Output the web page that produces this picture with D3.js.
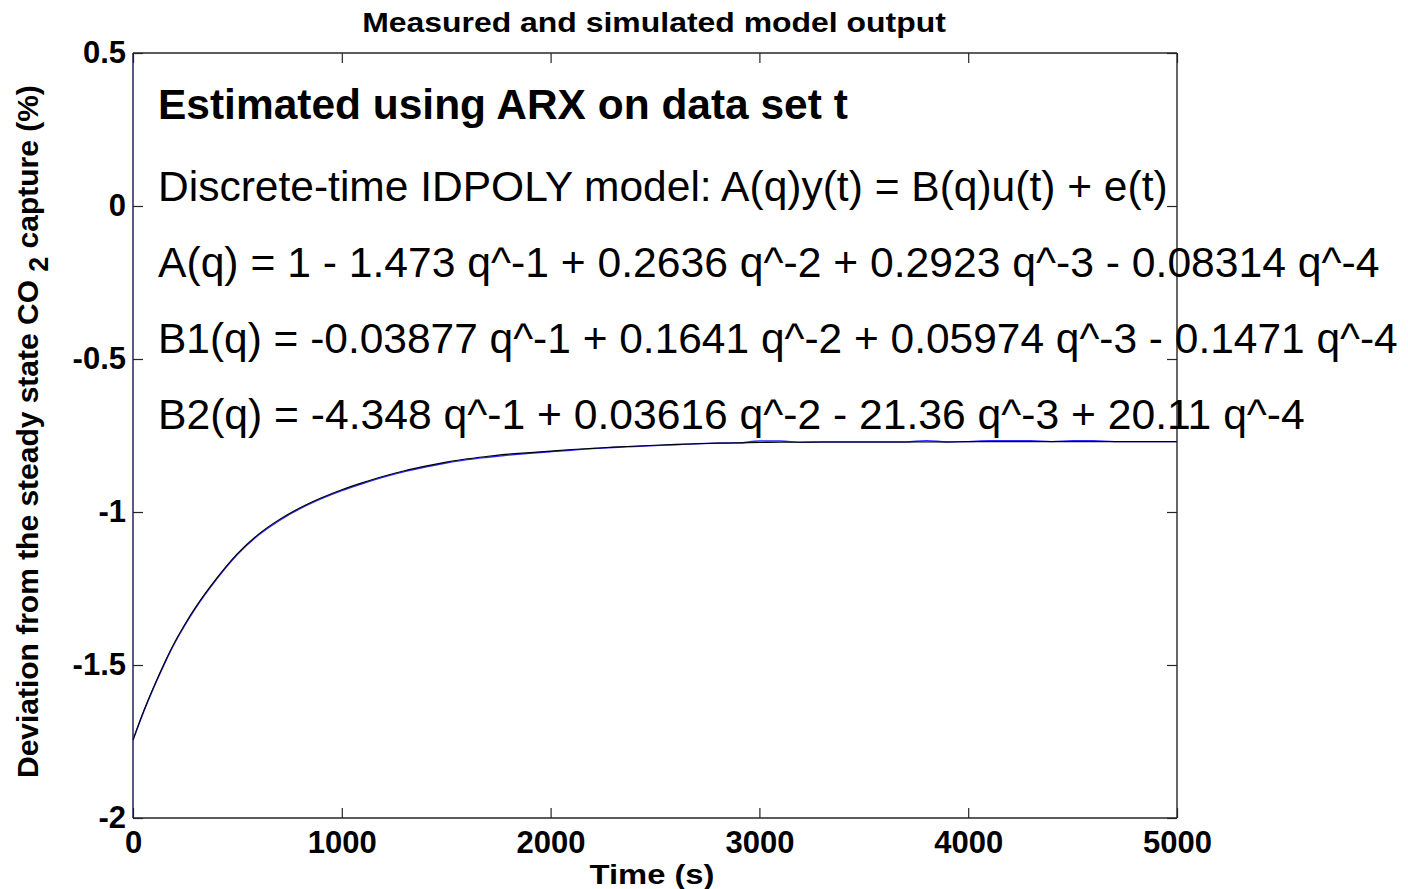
<!DOCTYPE html>
<html>
<head>
<meta charset="utf-8">
<script src="https://cdn.jsdelivr.net/npm/d3@7"></script>
<style>
  html, body { margin: 0; padding: 0; background: #fff; }
  svg { display: block; font-family: Arial, "Liberation Sans", sans-serif; }
</style>
</head>
<body>
<svg id="chart" width="1408" height="889"></svg>
<script>
// Sample times (s) and deviation of CO2 capture (%)
const timeS = [0, 50, 100, 150, 200, 250, 300, 400, 500, 600, 700, 800, 900, 1000,
  1100, 1200, 1300, 1400, 1500, 1600, 1700, 1800, 1900, 2000, 2100, 2200, 2300, 2400,
  2500, 2600, 2700, 2800, 2900, 3000, 3100, 3200, 3300, 3400, 3500, 3600, 3700, 3800,
  3900, 4000, 4100, 4200, 4300, 4400, 4500, 4600, 4700, 4800, 4900, 5000];

const measured = [-1.745, -1.652, -1.570, -1.494, -1.425, -1.365, -1.311, -1.217, -1.136,
  -1.073, -1.025, -0.986, -0.954, -0.927, -0.904, -0.883, -0.865, -0.850, -0.837, -0.826,
  -0.818, -0.811, -0.806, -0.801, -0.796, -0.792, -0.788, -0.785, -0.782, -0.779, -0.777,
  -0.775, -0.774, -0.773, -0.772, -0.772, -0.771, -0.771, -0.771, -0.771, -0.771, -0.771,
  -0.771, -0.770, -0.770, -0.770, -0.770, -0.770, -0.770, -0.770, -0.770, -0.770, -0.770,
  -0.770];

const simulated = [-1.745, -1.655, -1.573, -1.497, -1.428, -1.368, -1.314, -1.220, -1.139,
  -1.076, -1.028, -0.989, -0.957, -0.930, -0.907, -0.886, -0.868, -0.853, -0.840, -0.829,
  -0.821, -0.814, -0.808, -0.803, -0.798, -0.793, -0.789, -0.786, -0.783, -0.780, -0.777,
  -0.775, -0.774, -0.768, -0.768, -0.772, -0.771, -0.771, -0.771, -0.771, -0.771, -0.767,
  -0.771, -0.770, -0.767, -0.767, -0.767, -0.770, -0.767, -0.767, -0.770, -0.770, -0.770,
  -0.770];

const xTicks = [0, 1000, 2000, 3000, 4000, 5000];
const yTicks = [-2, -1.5, -1, -0.5, 0, 0.5];
const yTickLabels = ["-2", "-1.5", "-1", "-0.5", "0", "0.5"];

const chartTitle = "Measured and simulated model output";
const xLabel = "Time (s)";
const yLabelParts = ["Deviation from the steady state CO ", "2", " capture (%)"];

const noteHeading = "Estimated using ARX on data set t";
const noteLines = [
  "Discrete-time IDPOLY model: A(q)y(t) = B(q)u(t) + e(t)",
  "A(q) = 1 - 1.473 q^-1 + 0.2636 q^-2 + 0.2923 q^-3 - 0.08314 q^-4",
  "B1(q) = -0.03877 q^-1 + 0.1641 q^-2 + 0.05974 q^-3 - 0.1471 q^-4",
  "B2(q) = -4.348 q^-1 + 0.03616 q^-2 - 21.36 q^-3 + 20.11 q^-4"
];

// ---- layout ----
const svg = d3.select("#chart");
const box = { left: 133, right: 1177, top: 53, bottom: 818 };

const x = d3.scaleLinear().domain([0, 5000]).range([box.left, box.right]);
const y = d3.scaleLinear().domain([-2, 0.5]).range([box.bottom, box.top]);

// text placed at (px,py) and scaled so that it spans `width` pixels;
// with keepHeight the glyph height stays at the given font size
function fittedText(parent, opts) {
  const g = parent.append("g");
  const t = g.append("text")
    .attr("font-size", opts.size)
    .attr("font-weight", opts.weight || "normal")
    .attr("text-anchor", opts.anchor || "start")
    .attr("fill", "#000");
  if (opts.parts) {
    t.append("tspan").text(opts.parts[0]);
    t.append("tspan").attr("font-size", opts.size * 0.9).attr("dy", opts.size * 0.32).text(opts.parts[1]);
    t.append("tspan").attr("dy", -opts.size * 0.32).text(opts.parts[2]);
  } else {
    t.text(opts.text);
  }
  const len = t.node().getComputedTextLength();
  const sx = opts.width / len;
  const sy = opts.keepHeight ? 1 : sx;
  const rot = opts.rotate ? ` rotate(${opts.rotate})` : "";
  g.attr("transform", `translate(${opts.x},${opts.y})${rot} scale(${sx},${sy})`);
  return g;
}

// ---- data lines ----
const simPts = timeS.map((t, i) => ({ t, v: simulated[i] }));
const measPts = timeS.map((t, i) => ({ t, v: measured[i] }));
const line = d3.line().x(d => x(d.t)).y(d => y(d.v)).curve(d3.curveMonotoneX);

svg.append("path").datum(simPts)
  .attr("d", line).attr("fill", "none")
  .attr("stroke", "#2a2aff").attr("stroke-width", 1.4);
svg.append("path").datum(measPts)
  .attr("d", line).attr("fill", "none")
  .attr("stroke", "#000").attr("stroke-width", 1.1);

// ---- axes (ticks pointing inward on all four sides) ----
const tickLen = 10;
const axColor = "#262626";

const gBottom = svg.append("g").attr("transform", `translate(0,${box.bottom})`)
  .call(d3.axisBottom(x).tickValues(xTicks).tickSize(-tickLen).tickPadding(13)
    .tickFormat(d3.format("d")));
const gTop = svg.append("g").attr("transform", `translate(0,${box.top})`)
  .call(d3.axisTop(x).tickValues(xTicks).tickSize(-tickLen).tickFormat(""));
const gLeft = svg.append("g").attr("transform", `translate(${box.left},0)`)
  .call(d3.axisLeft(y).tickValues(yTicks).tickSize(-tickLen).tickPadding(7)
    .tickFormat((d, i) => yTickLabels[i]));
const gRight = svg.append("g").attr("transform", `translate(${box.right},0)`)
  .call(d3.axisRight(y).tickValues(yTicks).tickSize(-tickLen).tickFormat(""));

[gBottom, gTop, gLeft, gRight].forEach(g => {
  g.select(".domain").remove();
  g.selectAll(".tick line").attr("stroke", axColor).attr("stroke-width", 1.2);
});
[gBottom, gLeft].forEach(g => {
  g.selectAll(".tick text")
    .attr("font-size", 31).attr("font-weight", "bold").attr("fill", "#000")
    .attr("font-family", "Arial, 'Liberation Sans', sans-serif");
});

// frame
svg.append("line").attr("x1", box.left).attr("x2", box.right).attr("y1", box.top).attr("y2", box.top)
  .attr("stroke", axColor).attr("stroke-width", 1.4);
svg.append("line").attr("x1", box.left).attr("x2", box.right).attr("y1", box.bottom).attr("y2", box.bottom)
  .attr("stroke", axColor).attr("stroke-width", 1.4);
svg.append("line").attr("x1", box.right).attr("x2", box.right).attr("y1", box.top).attr("y2", box.bottom)
  .attr("stroke", axColor).attr("stroke-width", 1.4);
svg.append("line").attr("x1", box.left).attr("x2", box.left).attr("y1", box.top).attr("y2", box.bottom)
  .attr("stroke", "#16164a").attr("stroke-width", 1.4);

// ---- titles ----
fittedText(svg, { x: 654, y: 32, text: chartTitle, size: 27, weight: "bold", anchor: "middle", width: 584, keepHeight: true });
fittedText(svg, { x: 652, y: 884, text: xLabel, size: 28, weight: "bold", anchor: "middle", width: 125, keepHeight: true });
fittedText(svg, { x: 38, y: 778, parts: yLabelParts, size: 27, weight: "bold", rotate: -90, width: 693 });

// ---- model annotation ----
const noteX = 158;
fittedText(svg, { x: noteX, y: 119, text: noteHeading, size: 38, weight: "bold", width: 690 });
const noteBase = [201, 277, 353, 429];
const noteRight = [1168, 1380, 1398, 1305];
noteLines.forEach((s, i) => {
  fittedText(svg, { x: noteX, y: noteBase[i], text: s, size: 38, width: noteRight[i] - noteX });
});
</script>
</body>
</html>
